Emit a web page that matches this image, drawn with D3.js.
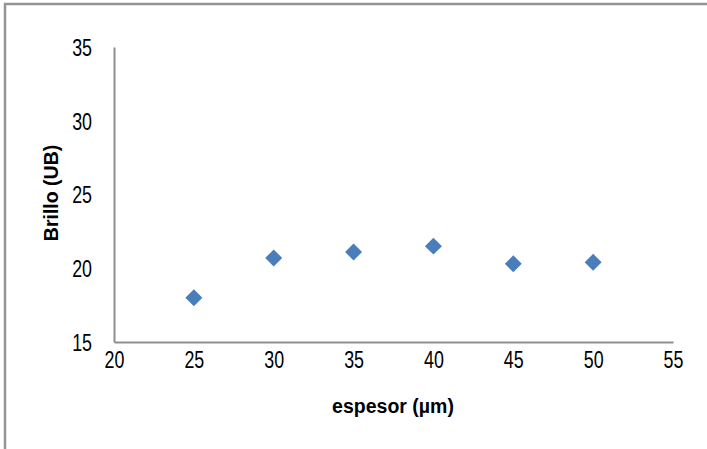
<!DOCTYPE html>
<html><head><meta charset="utf-8">
<script src="https://cdn.jsdelivr.net/npm/d3@7"></script>
<style>html,body{margin:0;padding:0;background:#fff;}</style>
</head><body>
<script>
const espesor = [25, 30, 35, 40, 45, 50];
const brillo = [18.0, 20.7, 21.1, 21.5, 20.3, 20.4];
const xTicks = [20, 25, 30, 35, 40, 45, 50, 55];
const yTicks = [15, 20, 25, 30, 35];
const xTitle = "espesor (µm)";
const yTitle = "Brillo (UB)";

const W = 707, H = 449;
const svg = d3.select("body").append("svg").attr("width", W).attr("height", H);
svg.append("rect").attr("x", 0).attr("y", 0).attr("width", W).attr("height", H).attr("fill", "#fff");
svg.append("rect").attr("x", 5).attr("y", 4).attr("width", W + 10).attr("height", H + 10)
  .attr("fill", "none").attr("stroke", "#959595").attr("stroke-width", 2.5);

const x = d3.scaleLinear().domain([20, 55]).range([114, 673]);
const y = d3.scaleLinear().domain([15, 35]).range([342, 47]);
const tickFont = "'Liberation Sans', Arial, sans-serif";
const axisColor = "#8e8e8e";
const sx = 0.76;
const fs = 23.5;

const xAxis = svg.append("g").attr("transform", `translate(0,${y(15)})`)
  .call(d3.axisBottom(x).tickValues(xTicks).tickSize(0).tickPadding(22));
xAxis.select(".domain").attr("stroke", axisColor).attr("stroke-width", 2);
xAxis.selectAll("text").attr("font-family", tickFont).attr("font-size", fs).attr("fill", "#000")
  .attr("dy", "0.16em").attr("transform", `scale(${sx},1)`);

const yAxis = svg.append("g").attr("transform", `translate(${x(20)},0)`)
  .call(d3.axisLeft(y).tickValues(yTicks).tickSize(0).tickPadding(22));
yAxis.select(".domain").attr("stroke", axisColor).attr("stroke-width", 2);
yAxis.selectAll("text").attr("font-family", tickFont).attr("font-size", fs).attr("fill", "#000")
  .attr("dy", "0.36em").attr("x", -22 / sx).attr("transform", `scale(${sx},1)`);

const diamond = d3.symbol().type(d3.symbolSquare).size(144);
svg.append("g").selectAll("path").data(espesor).join("path")
  .attr("d", diamond)
  .attr("transform", (d, i) => `translate(${x(d)},${y(brillo[i])}) rotate(45)`)
  .attr("fill", "#4a7ebb");

svg.append("text").attr("x", 393).attr("y", 413).attr("text-anchor", "middle")
  .attr("font-family", "'Liberation Sans', Arial, sans-serif").attr("font-weight", "bold")
  .attr("font-size", 19.5).text(xTitle);
svg.append("text").attr("transform", "translate(58,193) rotate(-90)").attr("text-anchor", "middle")
  .attr("font-family", "'Liberation Sans', Arial, sans-serif").attr("font-weight", "bold")
  .attr("font-size", 19.5).text(yTitle);
</script>
</body></html>
